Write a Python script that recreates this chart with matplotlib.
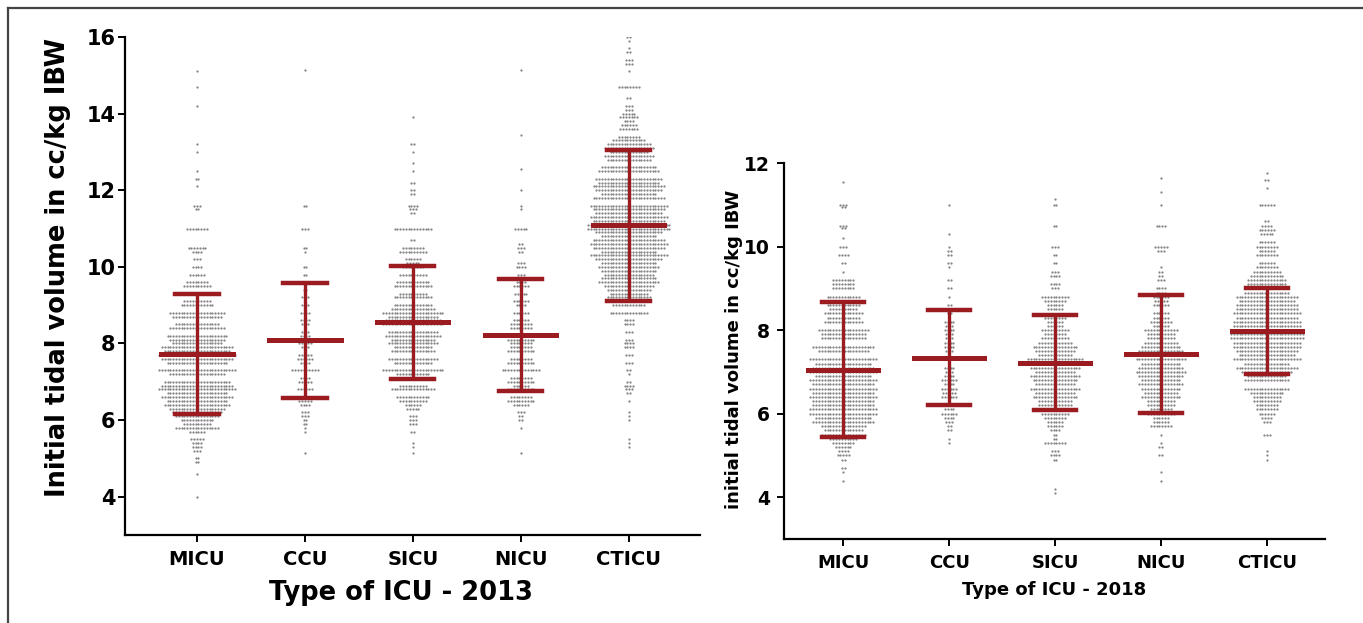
import numpy as np
import matplotlib
matplotlib.use("Agg")
import matplotlib.pyplot as plt
from matplotlib.lines import Line2D

CATEGORIES = ["MICU", "CCU", "SICU", "NICU", "CTICU"]

# (tidal volume level, number of patients at that level)
MICU_2013 = [(15.1, 1), (14.7, 1), (14.2, 1), (13.2, 1), (13.0, 1), (12.5, 1), (12.3, 2), (12.1, 1),
             (11.6, 3), (11.5, 2), (11.0, 8), (10.5, 7), (10.4, 4), (10.2, 3), (10.0, 4), (9.8, 6),
             (9.6, 8), (9.5, 10), (9.3, 9), (9.1, 10), (9.0, 12), (8.8, 20), (8.7, 18), (8.5, 16),
             (8.4, 20), (8.2, 22), (8.1, 20), (8.0, 18), (7.9, 26), (7.8, 24), (7.7, 28), (7.6, 26),
             (7.5, 22), (7.3, 28), (7.2, 20), (7.0, 24), (6.9, 26), (6.8, 28), (6.7, 22), (6.6, 26),
             (6.5, 22), (6.4, 24), (6.3, 20), (6.2, 18), (6.1, 16), (6.0, 12), (5.9, 10), (5.8, 16),
             (5.7, 6), (5.5, 5), (5.4, 4), (5.3, 4), (5.2, 3), (5.0, 2), (4.9, 2), (4.6, 1), (4.0, 1)]
CCU_2013 = [(15.15, 1), (11.6, 2), (11.0, 3), (10.5, 2), (10.4, 1), (10.0, 2), (9.8, 2), (9.6, 3),
            (9.4, 2), (9.2, 3), (9.0, 3), (8.8, 4), (8.6, 4), (8.5, 3), (8.3, 3), (8.2, 4), (8.0, 5),
            (7.9, 3), (7.7, 5), (7.6, 6), (7.5, 4), (7.3, 10), (7.1, 4), (7.0, 5), (6.8, 6), (6.6, 4),
            (6.5, 5), (6.4, 4), (6.2, 3), (6.1, 3), (6.0, 2), (5.9, 2), (5.8, 1), (5.7, 1), (5.15, 1)]
SICU_2013 = [(13.9, 1), (13.2, 2), (13.0, 1), (12.7, 1), (12.5, 1), (12.2, 2), (12.0, 2), (11.9, 2),
             (11.6, 4), (11.5, 3), (11.4, 2), (11.0, 14), (10.7, 2), (10.5, 8), (10.4, 10), (10.2, 6),
             (10.1, 5), (10.0, 8), (9.8, 10), (9.6, 12), (9.5, 14), (9.3, 10), (9.2, 14), (9.0, 14),
             (8.9, 16), (8.8, 22), (8.7, 18), (8.6, 20), (8.5, 22), (8.3, 18), (8.2, 20), (8.1, 16),
             (8.0, 18), (7.9, 14), (7.8, 16), (7.6, 18), (7.5, 14), (7.3, 22), (7.2, 12), (7.1, 16),
             (6.9, 10), (6.8, 16), (6.6, 12), (6.5, 10), (6.4, 6), (6.3, 5), (6.1, 3), (6.0, 3),
             (5.9, 3), (5.7, 2), (5.4, 1), (5.3, 1), (5.15, 1)]
NICU_2013 = [(15.15, 1), (13.45, 1), (12.55, 1), (12.0, 1), (11.6, 1), (11.5, 1), (11.0, 5), (10.6, 2),
             (10.5, 3), (10.4, 2), (10.1, 3), (10.0, 4), (9.8, 3), (9.6, 4), (9.5, 6), (9.3, 5), (9.1, 6),
             (9.0, 4), (8.8, 6), (8.6, 6), (8.5, 8), (8.4, 8), (8.2, 10), (8.1, 10), (8.0, 8), (7.9, 8),
             (7.8, 10), (7.6, 8), (7.5, 10), (7.3, 14), (7.1, 8), (7.0, 10), (6.9, 6), (6.8, 10),
             (6.6, 8), (6.5, 10), (6.4, 6), (6.2, 3), (6.1, 2), (6.0, 2), (5.8, 1), (5.15, 1)]
CTICU_2013 = [(16.0, 2), (15.9, 1), (15.7, 1), (15.6, 2), (15.4, 3), (15.3, 3), (15.1, 1), (14.7, 8),
              (14.4, 2), (14.2, 3), (14.1, 3), (14.0, 5), (13.9, 7), (13.8, 4), (13.7, 6), (13.6, 7),
              (13.4, 8), (13.3, 12), (13.2, 16), (13.1, 18), (13.0, 14), (12.9, 18), (12.8, 16),
              (12.6, 20), (12.5, 22), (12.3, 24), (12.2, 22), (12.1, 26), (12.0, 24), (11.9, 20),
              (11.8, 26), (11.6, 28), (11.5, 26), (11.4, 24), (11.3, 28), (11.2, 26), (11.1, 30),
              (11.0, 30), (10.9, 24), (10.8, 20), (10.7, 26), (10.6, 28), (10.5, 26), (10.4, 20),
              (10.3, 28), (10.2, 24), (10.1, 20), (10.0, 22), (9.9, 20), (9.8, 18), (9.7, 20),
              (9.6, 22), (9.5, 18), (9.4, 16), (9.3, 14), (9.2, 16), (9.0, 12), (8.8, 14), (8.6, 4),
              (8.5, 4), (8.3, 3), (8.1, 3), (8.0, 4), (7.9, 4), (7.7, 3), (7.5, 3), (7.3, 2), (7.2, 1),
              (7.0, 2), (6.9, 4), (6.8, 3), (6.7, 2), (6.5, 1), (6.2, 1), (6.1, 1), (6.0, 1), (5.5, 1),
              (5.4, 1), (5.3, 1)]

MICU_2018 = [(11.55, 1), (11.0, 3), (10.95, 2), (10.5, 3), (10.45, 2), (10.2, 1), (10.0, 3), (9.8, 4),
             (9.6, 2), (9.4, 1), (9.2, 8), (9.1, 8), (9.0, 8), (8.8, 12), (8.7, 14), (8.6, 12), (8.5, 10),
             (8.4, 14), (8.3, 12), (8.2, 14), (8.0, 18), (7.9, 16), (7.8, 16), (7.6, 22), (7.5, 18),
             (7.3, 24), (7.2, 20), (7.1, 22), (7.0, 24), (6.9, 20), (6.8, 24), (6.7, 22), (6.6, 24),
             (6.5, 22), (6.4, 24), (6.3, 22), (6.2, 22), (6.1, 24), (6.0, 24), (5.9, 20), (5.8, 22),
             (5.7, 16), (5.6, 14), (5.5, 16), (5.4, 10), (5.3, 8), (5.2, 6), (5.1, 4), (5.0, 5),
             (4.9, 2), (4.7, 2), (4.6, 1), (4.4, 1)]
CCU_2018 = [(11.0, 1), (10.3, 1), (10.0, 1), (9.9, 2), (9.8, 2), (9.6, 2), (9.5, 1), (9.2, 2), (9.0, 2),
            (8.8, 1), (8.6, 2), (8.5, 3), (8.4, 2), (8.2, 4), (8.1, 3), (8.0, 4), (7.9, 3), (7.8, 3),
            (7.7, 4), (7.6, 4), (7.5, 3), (7.3, 4), (7.1, 4), (7.0, 3), (6.9, 4), (6.8, 6), (6.7, 4),
            (6.6, 6), (6.5, 5), (6.4, 6), (6.2, 5), (6.1, 4), (6.0, 6), (5.9, 4), (5.8, 3), (5.7, 2),
            (5.6, 2), (5.4, 1), (5.3, 1)]
SICU_2018 = [(11.15, 1), (11.0, 2), (10.5, 2), (10.0, 3), (9.8, 2), (9.6, 2), (9.4, 3), (9.3, 4),
             (9.1, 4), (9.0, 3), (8.8, 10), (8.7, 8), (8.6, 6), (8.5, 6), (8.3, 8), (8.2, 6), (8.1, 6),
             (8.0, 10), (7.9, 8), (7.8, 10), (7.7, 12), (7.6, 16), (7.5, 14), (7.4, 12), (7.3, 20),
             (7.2, 16), (7.1, 18), (7.0, 14), (6.9, 18), (6.8, 16), (6.7, 14), (6.6, 18), (6.5, 14),
             (6.4, 16), (6.3, 12), (6.2, 12), (6.1, 14), (6.0, 10), (5.9, 8), (5.8, 6), (5.7, 6),
             (5.6, 4), (5.5, 2), (5.4, 2), (5.3, 8), (5.1, 3), (5.0, 4), (4.9, 2), (4.2, 1), (4.1, 1)]
NICU_2018 = [(11.65, 1), (11.3, 1), (11.0, 1), (10.5, 4), (10.0, 5), (9.9, 3), (9.5, 1), (9.4, 2),
             (9.3, 2), (9.2, 3), (9.0, 4), (8.9, 4), (8.8, 6), (8.7, 5), (8.6, 6), (8.4, 6), (8.3, 6),
             (8.2, 8), (8.1, 6), (8.0, 12), (7.9, 10), (7.8, 10), (7.7, 12), (7.6, 14), (7.5, 16),
             (7.4, 16), (7.3, 18), (7.2, 14), (7.1, 16), (7.0, 18), (6.9, 16), (6.8, 14), (6.7, 16),
             (6.6, 14), (6.5, 12), (6.4, 14), (6.3, 10), (6.2, 10), (6.1, 8), (6.0, 10), (5.9, 6),
             (5.8, 6), (5.7, 8), (5.5, 1), (5.3, 1), (5.2, 2), (5.0, 2), (4.6, 1), (4.4, 1)]
CTICU_2018 = [(11.75, 1), (11.6, 2), (11.4, 1), (11.0, 6), (10.6, 2), (10.5, 4), (10.4, 6), (10.3, 5),
              (10.1, 6), (10.0, 8), (9.9, 6), (9.8, 8), (9.6, 6), (9.5, 8), (9.4, 10), (9.3, 12),
              (9.2, 14), (9.1, 14), (9.0, 16), (8.9, 16), (8.8, 22), (8.7, 20), (8.6, 22), (8.5, 22),
              (8.4, 24), (8.3, 22), (8.2, 24), (8.1, 24), (8.0, 26), (7.9, 26), (7.8, 26), (7.7, 24),
              (7.6, 24), (7.5, 22), (7.4, 20), (7.3, 24), (7.2, 16), (7.1, 22), (7.0, 18), (6.9, 14),
              (6.8, 16), (6.6, 16), (6.5, 12), (6.4, 10), (6.3, 10), (6.2, 8), (6.1, 8), (6.0, 6),
              (5.9, 4), (5.8, 3), (5.5, 3), (5.1, 1), (5.0, 1), (4.9, 1)]

MEAN_2013 = [7.72, 8.08, 8.55, 8.22, 11.08]
SD_LOW_2013 = [6.15, 6.58, 7.07, 6.77, 9.12]
SD_HIGH_2013 = [9.30, 9.58, 10.02, 9.68, 13.05]

MEAN_2018 = [7.05, 7.33, 7.22, 7.42, 7.98]
SD_LOW_2018 = [5.43, 6.20, 6.08, 6.02, 6.95]
SD_HIGH_2018 = [8.68, 8.47, 8.37, 8.84, 9.00]

DOT_COLOR = "#858585"
BAR_COLOR = "#9b1c20"


def draw_panel(ax, groups, means, lows, highs, ylim, yticks, ylabel, xlabel, sizes, dx):
    tick_size, xtick_size, lab_size, ytick_pad = sizes
    for i, grp in enumerate(groups):
        xs, ys = [], []
        for val, n in grp:
            offs = (np.arange(n) - (n - 1) / 2.0) * dx
            xs.extend(i + offs)
            ys.extend([val] * n)
        ax.scatter(xs, ys, s=2.6, color=DOT_COLOR, linewidths=0, zorder=2)

        # mean +/- SD bars
        ax.plot([i, i], [lows[i], highs[i]], color=BAR_COLOR, lw=2.4, zorder=3, solid_capstyle="butt")
        ax.plot([i - 0.2, i + 0.2], [lows[i]] * 2, color=BAR_COLOR, lw=3.2, zorder=3)
        ax.plot([i - 0.2, i + 0.2], [highs[i]] * 2, color=BAR_COLOR, lw=3.2, zorder=3)
        ax.plot([i - 0.33, i + 0.33], [means[i]] * 2, color=BAR_COLOR, lw=3.6, zorder=3)

    ax.set_ylim(*ylim)
    ax.set_yticks(yticks)
    ax.set_xticks(range(len(CATEGORIES)))
    ax.set_xticklabels(CATEGORIES)
    for side in ("top", "right"):
        ax.spines[side].set_visible(False)
    for side in ("left", "bottom"):
        ax.spines[side].set_linewidth(1.6)
    ax.tick_params(axis="y", length=5, width=1.4, labelsize=tick_size, pad=ytick_pad)
    ax.tick_params(axis="x", length=5, width=1.4, labelsize=xtick_size, pad=6)
    for lab in ax.get_xticklabels() + ax.get_yticklabels():
        lab.set_fontweight("bold")
    ax.set_ylabel(ylabel, fontsize=lab_size, fontweight="bold")
    ax.set_xlabel(xlabel, fontsize=lab_size, fontweight="bold")


def main():
    plt.rcParams["font.family"] = ["DejaVu Sans"]
    W, H = 1363, 623
    fig = plt.figure(figsize=(W / 100, H / 100), dpi=100)

    ax1 = fig.add_axes([125 / W, 1 - 535 / H, (700 - 125) / W, (535 - 37) / H])
    draw_panel(ax1, [MICU_2013, CCU_2013, SICU_2013, NICU_2013, CTICU_2013],
               MEAN_2013, SD_LOW_2013, SD_HIGH_2013, (3, 16), [4, 6, 8, 10, 12, 14, 16],
               "Initial tidal volume in cc/kg IBW", "Type of ICU - 2013",
               (15, 14, 18.5, 2), 0.026)
    ax1.set_xlim(-0.667, 4.66)
    ax1.yaxis.set_label_coords(-0.094, 0.538)
    ax1.xaxis.set_label_coords(0.48, -0.091)

    ax2 = fig.add_axes([784 / W, 1 - 539 / H, (1325 - 784) / W, (539 - 163) / H])
    draw_panel(ax2, [MICU_2018, CCU_2018, SICU_2018, NICU_2018, CTICU_2018],
               MEAN_2018, SD_LOW_2018, SD_HIGH_2018, (3, 12), [4, 6, 8, 10, 12],
               "initial tidal volume in cc/kg IBW", "Type of ICU - 2018",
               (13.5, 13, 13, 5), 0.027)
    ax2.set_xlim(-0.56, 4.55)
    ax2.yaxis.set_label_coords(-0.076, 0.505)
    ax2.xaxis.set_label_coords(0.5, -0.111)

    # outer frame (top and left edges visible in the original)
    fig.add_artist(Line2D([8 / W, 1], [1 - 8 / H, 1 - 8 / H], color="#444444", lw=1.6))
    fig.add_artist(Line2D([8 / W, 8 / W], [0, 1 - 8 / H], color="#444444", lw=1.6))

    fig.savefig("out.png", dpi=100)
    plt.close(fig)


if __name__ == "__main__":
    main()
